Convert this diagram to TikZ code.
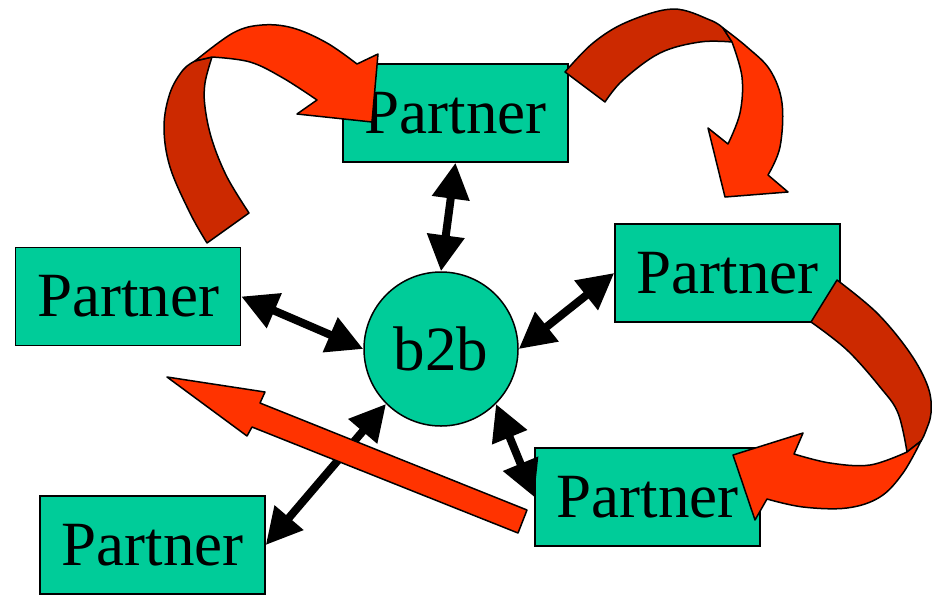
\documentclass[tikz,border=0pt]{standalone}
\usepackage{fontspec}
\setmainfont{Liberation Serif}
\usetikzlibrary{arrows.meta}
\definecolor{boxgreen}{HTML}{00CC99}
\definecolor{brightred}{HTML}{FF3300}
\definecolor{darkred}{HTML}{CC2900}
\tikzset{
  partner/.style={rectangle, draw=black, line width=1.5pt, fill=boxgreen,
    minimum width=225pt, minimum height=98pt, inner sep=0pt,
    font=\fontsize{63}{63}\selectfont},
  hub/.style={circle, draw=black, line width=1.5pt, fill=boxgreen,
    minimum size=154pt, inner sep=0pt, font=\fontsize{63}{63}\selectfont},
  link/.style={line width=8pt, {Triangle[length=36pt,width=36pt]}-{Triangle[length=36pt,width=36pt]}},
  frontband/.style={fill=brightred, draw=black, line width=1.5pt, line join=round},
  backband/.style={fill=darkred, draw=black, line width=1.5pt, line join=round},
}
\begin{document}
\begin{tikzpicture}[x=1pt,y=-1pt]
\useasboundingbox (0,0) rectangle (939,595);
% nodes
\node[partner] (top) at (455.5,113) {Partner};
\node[partner] (left) at (128,296.5) {Partner};
\node[partner] (right) at (727.5,273) {Partner};
\node[partner] (br) at (647.5,497) {Partner};
\node[partner] (bl) at (152.5,545) {Partner};
\node[hub] (hub) at (441,349) {b2b};
% links
\draw[link] (top.south) -- (hub.90);
\draw[link] (left.east) -- (hub.180);
\draw[link] (right.west) -- (hub.0);
\draw[link] (hub.-45) -- (br.west);
\draw[link] (hub.-135) -- (bl.east);
% straight red arrow
\draw[frontband] (167,377) -- (265,392) -- (260,403) -- (527,510) -- (518,533) -- (252,427) -- (247,436) -- cycle;
% curved arrow 1 (left -> top)
\draw[backband] (249,213) -- (207,243)
  -- plot[smooth, tension=0.6] coordinates {(207,243) (190,213) (170,167) (164,127) (170,93) (183,70) (195,61)}
  -- (212,57)
  -- plot[smooth, tension=0.6] coordinates {(212,57) (205,83) (205,107) (212,140) (227,177) (249,213)}
  -- cycle;
\draw[frontband] (195,61)
  -- plot[smooth, tension=0.6] coordinates {(195,61) (233,33) (262,25) (293,28) (327,43) (357,64)}
  -- (378,54) -- (372,122) -- (297,114) -- (317,100)
  -- plot[smooth, tension=0.6] coordinates {(317,100) (283,78) (250,62) (212,57)}
  -- cycle;
% curved arrow 2 (top -> right)
\draw[backband] (565,72) -- (605,102)
  -- plot[smooth, tension=0.6] coordinates {(605,102) (623,80) (660,53) (700,42) (732,42)}
  -- (723,28)
  -- plot[smooth, tension=0.6] coordinates {(723,28) (710,20) (673,9) (627,22) (593,43) (565,72)}
  -- cycle;
\draw[frontband] (723,28)
  -- plot[smooth, tension=0.6] coordinates {(723,28) (747,47) (770,70) (782,103) (780,147) (768,175)}
  -- (788,192) -- (725,197) -- (708,128) -- (728,144)
  -- plot[smooth, tension=0.6] coordinates {(728,144) (740,113) (742,77) (732,42)}
  -- cycle;
% curved arrow 3 (right -> bottom right)
\draw[backband] (837,280) -- (811,322)
  -- plot[smooth, tension=0.6] coordinates {(811,322) (847,350) (880,387) (898,413) (907,452)}
  -- (921,441)
  -- plot[smooth, tension=0.6] coordinates {(921,441) (925,433) (931,413) (928,387) (910,353) (877,313) (837,280)}
  -- cycle;
\draw[frontband] (921,441)
  -- plot[smooth, tension=0.6] coordinates {(921,441) (903,473) (880,497) (847,508) (803,507) (767,499)}
  -- (755,520) -- (733,455) -- (803,433) -- (794,454)
  -- plot[smooth, tension=0.6] coordinates {(794,454) (830,463) (870,465) (907,452)}
  -- cycle;
\end{tikzpicture}
\end{document}
